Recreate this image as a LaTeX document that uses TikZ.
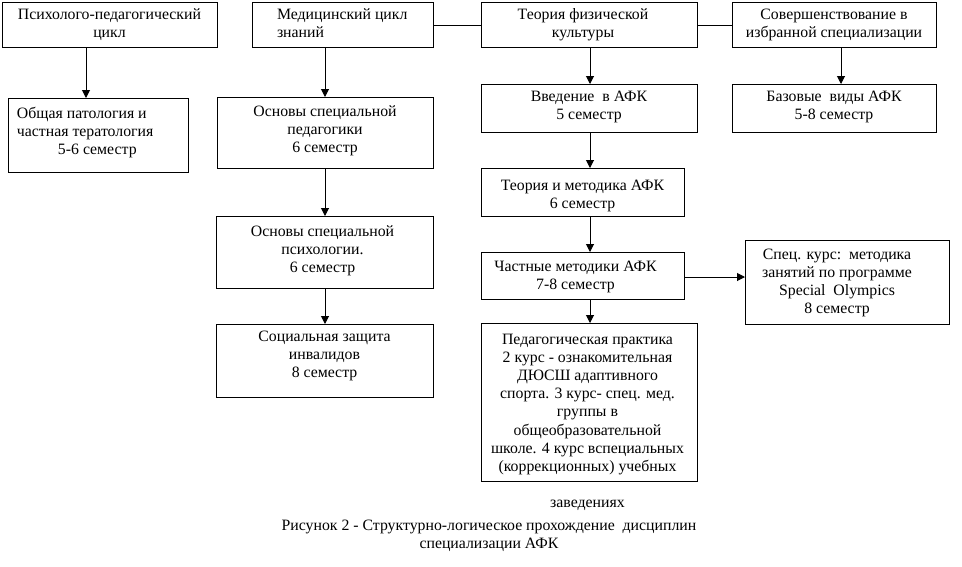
\documentclass[tikz,border=0pt]{standalone}
\usepackage{fontspec}
\setmainfont{Liberation Serif}
\usetikzlibrary{arrows.meta}
\newcommand{\myfont}{\fontsize{15.8}{18.2}\selectfont}
\newcommand{\bxc}[5]{\parbox[c][#2][t]{#1}{\vspace*{#3}\hspace*{#4}\parbox[t]{#1}{\centering\strut #5}}}
\newcommand{\bxl}[5]{\parbox[c][#2][t]{#1}{\vspace*{#3}\hspace*{#4}\parbox[t]{#1}{\raggedright\strut #5}}}
\begin{document}
\begin{tikzpicture}[x=1pt,y=-1pt,
  every node/.style={font=\myfont},
  box/.style={draw, line width=1pt, inner sep=0pt, outer sep=0pt, anchor=north west},
  arr/.style={line width=1pt, -{Triangle[width=8pt,length=8pt]}},
  ln/.style={line width=1pt}]
\useasboundingbox[fill=white] (0,0) rectangle (962,566);

% top row
\node[box] (b1) at (2,2) {\bxc{215pt}{45pt}{4.3pt}{0pt}{Психолого-педагогический\\цикл}};
\node[box] (b2) at (252,2) {\bxl{181pt}{45pt}{4.3pt}{25pt}{Медицинский цикл\\знаний}};
\node[box] (b3) at (481,2) {\bxc{216pt}{45pt}{4.3pt}{-6pt}{Теория физической\\культуры}};
\node[box] (b4) at (732,2) {\bxc{204pt}{45pt}{4.3pt}{0pt}{Совершенствование в\\избранной специализации}};

% left columns
\node[box] (b5) at (8,98) {\bxl{180pt}{74pt}{7.3pt}{9pt}{Общая патология и\\частная тератология\\\hspace*{41pt}5-6 семестр}};
\node[box] (b6) at (217,97) {\bxc{216pt}{71pt}{6.3pt}{0pt}{Основы специальной\\педагогики\\6 семестр}};
\node[box] (b7) at (216,216) {\bxc{217pt}{72pt}{7.3pt}{-2pt}{Основы специальной\\психологии.\\6 семестр}};
\node[box] (b8) at (216,324) {\bxc{217pt}{73pt}{4.3pt}{0pt}{Социальная защита\\инвалидов\\8 семестр}};

% right columns
\node[box] (b9) at (481,84) {\bxc{216pt}{48pt}{4.3pt}{0pt}{Введение\ \ в АФК\\5 семестр}};
\node[box] (b10) at (732,84) {\bxc{204pt}{48pt}{4.3pt}{0pt}{Базовые\ \ виды АФК\\5-8 семестр}};
\node[box] (b11) at (481,168) {\bxc{203pt}{48pt}{10pt}{0pt}{Теория и методика АФК\\6 семестр}};
\node[box] (b12) at (481,252) {\bxc{203pt}{47pt}{6.3pt}{-7pt}{Частные методики АФК\\7-8 семестр}};
\node[box] (b13) at (745,240) {\bxc{204pt}{84pt}{6.3pt}{-10pt}{Спец. курс:\ \ методика\\занятий по программе\\Special\ \ Olympics\\8 семестр}};
\node[box] (b14) at (481,323) {\bxc{216pt}{158pt}{8.3pt}{-1.5pt}{Педагогическая практика\\2 курс - ознакомительная\\ДЮСШ адаптивного\\спорта. 3 курс- спец. мед.\\группы в\\общеобразовательной\\школе. 4 курс вспециальных\\(коррекционных) учебных\\\mbox{}\\заведениях}};

% caption
\node[align=center] (cap) at (489,536) {Рисунок 2 - Структурно-логическое прохождение\ \ дисциплин\\специализации АФК};

% helper coordinates
\coordinate (xa) at (86,0);
\coordinate (xb) at (325,0);
\coordinate (xc) at (590,0);
\coordinate (xd) at (841,0);
\coordinate (ya) at (0,25);
\coordinate (yb) at (0,277);

% connectors
\draw[arr] (b1.south -| xa) -- (b5.north -| xa);
\draw[arr] (b2.south -| xb) -- (b6.north -| xb);
\draw[arr] (b6.south -| xb) -- (b7.north -| xb);
\draw[arr] (b7.south -| xb) -- (b8.north -| xb);
\draw[arr] (b3.south -| xc) -- (b9.north -| xc);
\draw[arr] (b9.south -| xc) -- (b11.north -| xc);
\draw[arr] (b11.south -| xc) -- (b12.north -| xc);
\draw[arr] (b12.south -| xc) -- (b14.north -| xc);
\draw[arr] (b4.south -| xd) -- (b10.north -| xd);
\draw[arr] (b12.east |- yb) -- (b13.west |- yb);
\draw[ln] (b2.east |- ya) -- (b3.west |- ya);
\draw[ln] (b3.east |- ya) -- (b4.west |- ya);
\end{tikzpicture}
\end{document}
